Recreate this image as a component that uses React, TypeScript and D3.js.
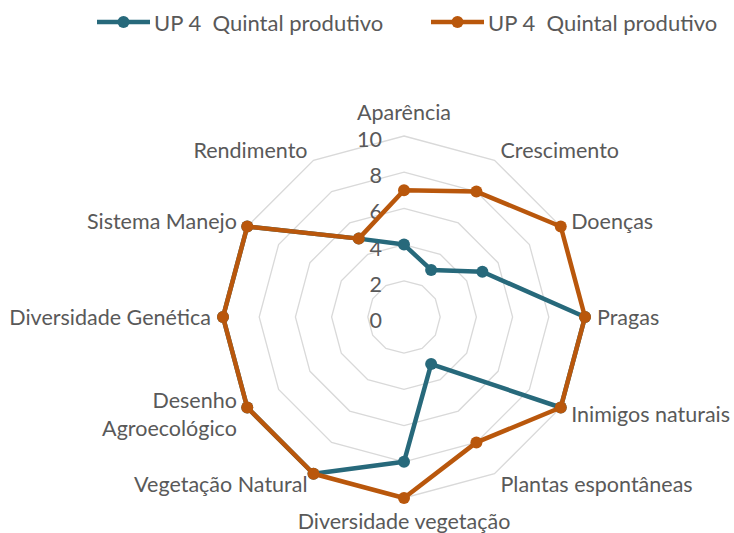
import { useEffect, useRef } from 'react';
import * as d3 from 'd3';

// Radar axes, clockwise from the top
const axes = [
  'Aparência',
  'Crescimento',
  'Doenças',
  'Pragas',
  'Inimigos naturais',
  'Plantas espontâneas',
  'Diversidade vegetação',
  'Vegetação Natural',
  'Desenho\nAgroecológico',
  'Diversidade Genética',
  'Sistema Manejo',
  'Rendimento',
];

const seriesNames = ['UP 4  Quintal produtivo', 'UP 4  Quintal produtivo'];
const tealValues = [4, 3, 5, 10, 10, 3, 8, 10, 10, 10, 10, 5];
const orangeValues = [7, 8, 10, 10, 10, 8, 10, 10, 10, 10, 10, 5];
const ticks = [0, 2, 4, 6, 8, 10];

const WIDTH = 734;
const HEIGHT = 533;
const CX = 404;
const CY = 317;
const RADIUS = 181;
const COLORS = ['#27697B', '#B9570C'];
const TEXT = '#595959';
const FONT = 'Lato, "Open Sans", sans-serif';

export default function App() {
  const svgRef = useRef<SVGSVGElement>(null);

  useEffect(() => {
    if (!svgRef.current) return;
    const svg = d3.select(svgRef.current);
    svg.selectAll('*').remove();

    const r = d3.scaleLinear().domain([0, 10]).range([0, RADIUS]);
    const step = (2 * Math.PI) / axes.length;
    const angleOf = (i: number) => i * step;

    const g = svg.append('g').attr('transform', `translate(${CX},${CY})`);

    // Grid rings
    ticks
      .filter(t => t > 0)
      .forEach(t => {
        const ring = d3
          .lineRadial<number>()
          .angle((_d, i) => angleOf(i))
          .radius(() => r(t))
          .curve(d3.curveLinearClosed);
        g.append('path')
          .attr('d', ring(axes.map(() => t)))
          .attr('fill', 'none')
          .attr('stroke', '#D9D9D9')
          .attr('stroke-width', 1.3);
      });

    // Tick labels
    ticks.forEach(t => {
      g.append('text')
        .attr('x', -22)
        .attr('y', -r(t) + 3)
        .attr('text-anchor', 'end')
        .attr('dominant-baseline', 'central')
        .attr('font-size', '21.5px')
        .attr('font-family', FONT)
        .attr('fill', TEXT)
        .text(t);
    });

    // Category labels
    axes.forEach((label, i) => {
      const a = angleOf(i);
      const s = Math.sin(a);
      const c = Math.cos(a);
      const off = RADIUS + 12;
      const x = off * s;
      let y = -off * c;
      let anchor = 'middle';
      if (s > 0.1) anchor = 'start';
      else if (s < -0.1) anchor = 'end';
      else y += c > 0 ? -12 : 11;
      const lines = label.split('\n');
      const lh = 28;
      const text = g
        .append('text')
        .attr('text-anchor', anchor)
        .attr('font-size', '21.5px')
        .attr('font-family', FONT)
        .attr('fill', TEXT);
      lines.forEach((line, j) => {
        text
          .append('tspan')
          .attr('x', x)
          .attr('y', y + (j - (lines.length - 1) / 2) * lh)
          .attr('dominant-baseline', 'central')
          .text(line);
      });
    });

    // Series
    [tealValues, orangeValues].forEach((values, si) => {
      const line = d3
        .lineRadial<number>()
        .angle((_d, i) => angleOf(i))
        .radius(d => r(d))
        .curve(d3.curveLinearClosed);
      g.append('path')
        .attr('d', line(values))
        .attr('fill', 'none')
        .attr('stroke', COLORS[si])
        .attr('stroke-width', 4.5)
        .attr('stroke-linejoin', 'round');
      g.selectAll(`.dot-${si}`)
        .data(values)
        .enter()
        .append('circle')
        .attr('cx', (d: number, i: number) => r(d) * Math.sin(angleOf(i)))
        .attr('cy', (d: number, i: number) => -r(d) * Math.cos(angleOf(i)))
        .attr('r', 6)
        .attr('fill', COLORS[si]);
    });

    // Legend
    const legendX = [97, 431];
    seriesNames.forEach((name, si) => {
      const lg = svg.append('g').attr('transform', `translate(${legendX[si]},22)`);
      lg.append('line')
        .attr('x1', 0)
        .attr('x2', 53)
        .attr('stroke', COLORS[si])
        .attr('stroke-width', 4.5);
      lg.append('circle').attr('cx', 26.5).attr('r', 6).attr('fill', COLORS[si]);
      lg.append('text')
        .attr('x', 57)
        .attr('dominant-baseline', 'central')
        .attr('font-size', '22px')
        .attr('font-family', FONT)
        .attr('fill', TEXT)
        .style('white-space', 'pre')
        .text(name);
    });
  }, []);

  return (
    <svg
      ref={svgRef}
      width={WIDTH}
      height={HEIGHT}
      style={{ position: 'absolute', left: 0, top: 0, background: '#ffffff' }}
    />
  );
}
